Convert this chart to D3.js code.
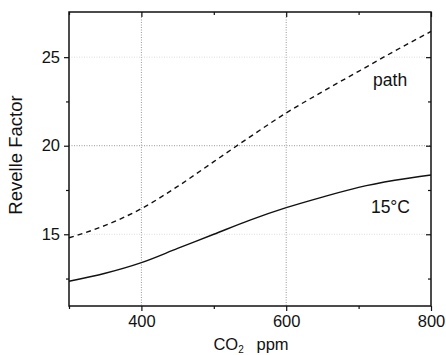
<!DOCTYPE html>
<html>
<head>
<meta charset="utf-8">
<script src="https://cdn.jsdelivr.net/npm/d3@7"></script>
<style>
  body { margin: 0; background: #fff; }
  svg { display: block; font-family: Arial, "Liberation Sans", sans-serif; }
</style>
</head>
<body>
<div id="canvas"></div>
<script>
"use strict"

// CO2 in ppm
let co2 = [300, 350, 400, 450, 500, 550, 600, 650, 700, 750, 800];
// Revelle factor at 15 degC (solid line)
let revelle15 = [12.35, 12.8, 13.4, 14.2, 15.0, 15.8, 16.5, 17.1, 17.65, 18.05, 18.35];
// Revelle factor along the path (dashed line)
let revellePath = [14.8, 15.5, 16.45, 17.7, 19.1, 20.5, 21.85, 23.05, 24.2, 25.35, 26.45];

let xTicks = [400, 600, 800];
let xMinor = [300, 500, 700];
let yTicks = [15, 20, 25];
let yMinor = [12.5, 17.5, 22.5];

let width = 446, height = 355;
let plotLeft = 69, plotRight = 431, plotTop = 12, plotBottom = 306;

let drawing = d3.select("#canvas")
    .append("svg")
    .attr("width", width)
    .attr("height", height);

let x = d3.scaleLinear().domain([300, 800]).range([plotLeft, plotRight]);
let y = d3.scaleLinear().domain([10.95, 27.55]).range([plotBottom, plotTop]);

// dotted grid at the major ticks
drawing.append("g")
    .selectAll("line")
    .data(xTicks.filter(d => d < 800))
    .join("line")
    .attr("x1", d => x(d)).attr("x2", d => x(d))
    .attr("y1", plotTop).attr("y2", plotBottom)
    .attr("stroke", "#999")
    .attr("stroke-width", 1)
    .attr("stroke-dasharray", "1,1.5");

drawing.append("g")
    .selectAll("line")
    .data(yTicks)
    .join("line")
    .attr("x1", plotLeft).attr("x2", plotRight)
    .attr("y1", d => y(d)).attr("y2", d => y(d))
    .attr("stroke", d => d === 20 ? "#999" : "#ddd")
    .attr("stroke-width", 1)
    .attr("stroke-dasharray", "1,1.5");

// curves
let line15 = d3.line()
    .x((d, i) => x(co2[i]))
    .y(d => y(d))
    .curve(d3.curveMonotoneX);

drawing.append("path")
    .attr("d", line15(revelle15))
    .attr("fill", "none")
    .attr("stroke", "#111")
    .attr("stroke-width", 1.4);

drawing.append("path")
    .attr("d", line15(revellePath))
    .attr("fill", "none")
    .attr("stroke", "#111")
    .attr("stroke-width", 1.4)
    .attr("stroke-dasharray", "5,4");

// axes: bottom and left with outward ticks, top and right with inward ticks
function styleAxis(g) {
    g.selectAll(".domain").remove();
    g.selectAll("line").attr("stroke", "#111").attr("stroke-width", 1.2);
    g.selectAll("text").attr("font-size", 16.5).attr("fill", "#111");
}

drawing.append("g")
    .attr("transform", "translate(0," + plotBottom + ")")
    .call(d3.axisBottom(x).tickValues(xTicks).tickSize(5).tickPadding(4).tickFormat(d3.format("d")))
    .call(styleAxis);
drawing.append("g")
    .attr("transform", "translate(0," + plotBottom + ")")
    .call(d3.axisBottom(x).tickValues(xMinor).tickSize(3).tickFormat(""))
    .call(styleAxis);

drawing.append("g")
    .attr("transform", "translate(" + plotLeft + ",0)")
    .call(d3.axisLeft(y).tickValues(yTicks).tickSize(5).tickPadding(4))
    .call(styleAxis);
drawing.append("g")
    .attr("transform", "translate(" + plotLeft + ",0)")
    .call(d3.axisLeft(y).tickValues(yMinor).tickSize(3).tickFormat(""))
    .call(styleAxis);

drawing.append("g")
    .attr("transform", "translate(0," + plotTop + ")")
    .call(d3.axisTop(x).tickValues(xTicks).tickSize(-5).tickFormat(""))
    .call(styleAxis);
drawing.append("g")
    .attr("transform", "translate(0," + plotTop + ")")
    .call(d3.axisTop(x).tickValues(xMinor).tickSize(-3).tickFormat(""))
    .call(styleAxis);

drawing.append("g")
    .attr("transform", "translate(" + plotRight + ",0)")
    .call(d3.axisRight(y).tickValues(yTicks).tickSize(-5).tickFormat(""))
    .call(styleAxis);
drawing.append("g")
    .attr("transform", "translate(" + plotRight + ",0)")
    .call(d3.axisRight(y).tickValues(yMinor).tickSize(-3).tickFormat(""))
    .call(styleAxis);

// frame
drawing.append("rect")
    .attr("x", plotLeft).attr("y", plotTop)
    .attr("width", plotRight - plotLeft).attr("height", plotBottom - plotTop)
    .attr("fill", "none")
    .attr("stroke", "#111")
    .attr("stroke-width", 1.5);

// curve labels
drawing.append("text")
    .attr("x", x(720)).attr("y", y(23.4))
    .attr("font-size", 17.5)
    .attr("fill", "#111")
    .text("path");

drawing.append("text")
    .attr("x", x(717)).attr("y", y(16.2))
    .attr("font-size", 17.5)
    .attr("fill", "#111")
    .text("15°C");

// axis titles
let xTitle = drawing.append("text")
    .attr("x", (plotLeft + plotRight) / 2 + 1)
    .attr("y", 350)
    .attr("text-anchor", "middle")
    .attr("font-size", 16.5)
    .attr("fill", "#111");
xTitle.append("tspan").text("CO");
xTitle.append("tspan").attr("font-size", 10).attr("dy", 3).text("2");
xTitle.append("tspan").attr("dy", -3).text("\u2002 ppm");

drawing.append("text")
    .attr("transform", "translate(22," + 155 + ") rotate(-90)")
    .attr("text-anchor", "middle")
    .attr("font-size", 18.5)
    .attr("fill", "#111")
    .text("Revelle Factor");
</script>
</body>
</html>
